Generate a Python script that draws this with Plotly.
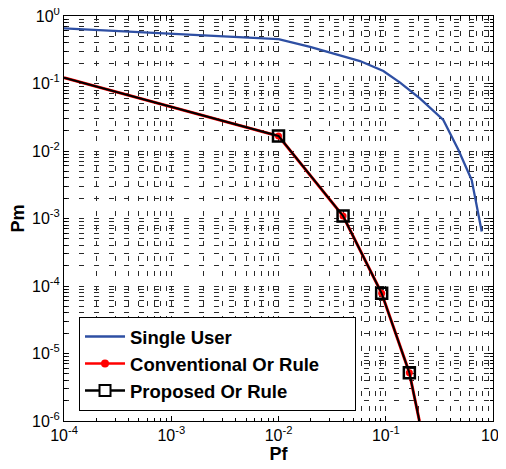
import plotly.graph_objects as go

# Single user ROC (Pf, Pm)
pf_single = [1e-4, 1e-3, 1e-2, 0.0197, 0.0324, 0.0575, 0.095, 0.136, 0.208, 0.344, 0.475, 0.633, 0.785]
pm_single = [0.657, 0.54, 0.455, 0.35, 0.28, 0.215, 0.153, 0.103, 0.060, 0.0288, 0.0104, 0.0037, 6.4e-4]

# Conventional / Proposed OR rule (coincide)
pf_or = [1e-4, 1e-3, 1e-2, 0.040, 0.0916, 0.166, 0.206]
pm_or = [0.122, 0.045, 0.0167, 0.00109, 7.8e-5, 5.2e-6, 1e-6]
# points carrying markers
pf_mk = [1e-2, 0.040, 0.0916, 0.166]
pm_mk = [0.0167, 0.00109, 7.8e-5, 5.2e-6]

names = ["Single User", "Conventional Or Rule", "Proposed Or Rule"]

x_tickvals = [1e-4, 1e-3, 1e-2, 1e-1, 1e0]
x_ticktext = ["10<sup>-4</sup>", "10<sup>-3</sup>", "10<sup>-2</sup>", "10<sup>-1</sup>", "10<sup>0</sup>"]
y_tickvals = [1e-6, 1e-5, 1e-4, 1e-3, 1e-2, 1e-1, 1e0]
y_ticktext = ["10<sup>-6</sup>", "10<sup>-5</sup>", "10<sup>-4</sup>", "10<sup>-3</sup>",
              "10<sup>-2</sup>", "10<sup>-1</sup>", "10<sup>0</sup>"]

blue = "#2E4FA3"
red = "#FF0000"
FONT = "Liberation Sans, Arial"
PAD = "&nbsp;" * 6  # right padding inside the legend box

fig = go.Figure()
# data traces
fig.add_trace(go.Scatter(x=pf_single, y=pm_single, mode="lines",
                         line=dict(color=blue, width=2.3), showlegend=False))
fig.add_trace(go.Scatter(x=pf_or, y=pm_or, mode="lines",
                         line=dict(color=red, width=3), showlegend=False))
fig.add_trace(go.Scatter(x=pf_mk, y=pm_mk, mode="markers",
                         marker=dict(color=red, size=7, symbol="circle"), showlegend=False))
fig.add_trace(go.Scatter(x=pf_or, y=pm_or, mode="lines",
                         line=dict(color="black", width=2), showlegend=False))
fig.add_trace(go.Scatter(x=pf_mk, y=pm_mk, mode="markers",
                         marker=dict(color="black", size=11, symbol="square-open",
                                     line=dict(color="black", width=2.5)), showlegend=False))
# legend entries
fig.add_trace(go.Scatter(x=[None], y=[None], mode="lines", name="<b>" + names[0] + "</b>" + PAD,
                         legendgroup="a", line=dict(color=blue, width=2.5)))
fig.add_trace(go.Scatter(x=[None], y=[None], mode="lines+markers", name="<b>" + names[1] + "</b>" + PAD,
                         legendgroup="b", line=dict(color=red, width=2.5), marker=dict(color=red, size=8)))
fig.add_trace(go.Scatter(x=[None], y=[None], mode="lines+markers", name="<b>" + names[2] + "</b>" + PAD,
                         legendgroup="c", line=dict(color="black", width=2.5),
                         marker=dict(color="white", size=11, symbol="square",
                                     line=dict(color="black", width=2))))

grid_col = "#2a2a2a"
axis_common = dict(
    type="log", showline=True, linecolor="black", linewidth=1, mirror="ticks",
    ticks="inside", ticklen=5, tickcolor="black", automargin=False,
    ticklabeloverflow="allow",
    showgrid=True, gridcolor=grid_col, gridwidth=1, griddash="5px,10px",
    zeroline=False,
    tickfont=dict(family=FONT, size=16, color="black"),
    minor=dict(dtick="D1", ticks="inside", ticklen=3, tickcolor="black",
               showgrid=True, gridcolor=grid_col, gridwidth=1, griddash="5px,10px"),
)

fig.update_xaxes(range=[-4, 0], tickvals=x_tickvals, ticktext=x_ticktext, **axis_common,
                 title=dict(text="<b>Pf</b>", standoff=0,
                            font=dict(family=FONT, size=18, color="black")))
fig.update_yaxes(range=[-6, 0], tickvals=y_tickvals, ticktext=y_ticktext, **axis_common,
                 title=dict(text="<b>Pm</b>", standoff=6,
                            font=dict(family=FONT, size=18, color="black")))

# page body has an 8px margin, so the figure is shrunk by 8px and left/top margins shifted
fig.update_layout(
    width=498, height=461,
    margin=dict(l=56, r=13, t=8, b=48),
    paper_bgcolor="white", plot_bgcolor="white",
    legend=dict(x=0.035, y=0.025, xanchor="left", yanchor="bottom",
                bgcolor="white", bordercolor="black", borderwidth=1,
                font=dict(family=FONT, size=18.5, color="black"),
                itemwidth=40, tracegroupgap=0, traceorder="grouped"),
    font=dict(family=FONT),
)

fig.write_html("out.html")
